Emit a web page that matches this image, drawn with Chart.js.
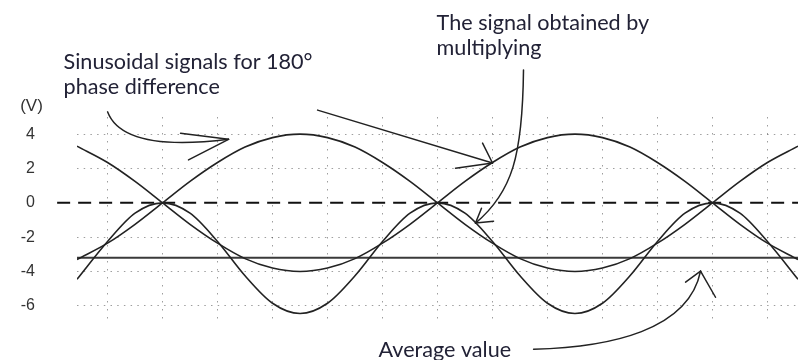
<!DOCTYPE html>
<html>
<head>
<meta charset="utf-8">
<script src="https://cdn.jsdelivr.net/npm/chart.js@4"></script>
<style>
  body { margin: 0; background: #fff; }
</style>
</head>
<body>
<canvas id="signals" width="798" height="360"></canvas>
<script>
// phase in degrees (x) and voltage (y)
const phase = [-56, -36, -18, 0, 18, 36, 54, 72, 90, 108, 126, 144, 162, 180, 198, 216, 234, 252, 270, 288, 306, 324, 342, 360, 378, 396, 416];
const signalA = [-3.3, -2.35, -1.25, 0, 1.25, 2.35, 3.25, 3.8, 4.0, 3.8, 3.25, 2.35, 1.25, 0, -1.25, -2.35, -3.25, -3.8, -4.0, -3.8, -3.25, -2.35, -1.25, 0, 1.25, 2.35, 3.3];
const signalB = [3.3, 2.35, 1.25, 0, -1.25, -2.35, -3.25, -3.8, -4.0, -3.8, -3.25, -2.35, -1.25, 0, 1.25, 2.35, 3.25, 3.8, 4.0, 3.8, 3.25, 2.35, 1.25, 0, -1.25, -2.35, -3.3];
const product = [-4.45, -2.25, -0.6, 0, -0.6, -2.25, -4.25, -5.85, -6.45, -5.85, -4.25, -2.25, -0.6, 0, -0.6, -2.25, -4.25, -5.85, -6.45, -5.85, -4.25, -2.25, -0.6, 0, -0.6, -2.25, -4.45];
const averageValue = -3.2;
const yTicks = [4, 2, 0, -2, -4, -6];
const xGrid = [-36, 0, 36, 72, 108, 144, 180, 216, 252, 288, 324, 360, 396];

// annotations, in data units
const notes = [
  { text: "Sinusoidal signals for 180°", x: -64.8, y: 8.2 },
  { text: "phase difference", x: -64.8, y: 6.74 },
  { text: "The signal obtained by", x: 179.4, y: 10.48 },
  { text: "multiplying", x: 179.4, y: 9.02 },
  { text: "Average value", x: 141.4, y: -8.59 }
];
const arrows = [
  { path: [[-36, 5.3], [-29, 3.65], [-1.3, 3.2], [43.2, 3.7]], head: [[11.8, 4.05], [17, 2.5]] },
  { path: [[101.5, 5.4], [216, 2.32]], head: [[209.5, 3.48], [191.8, 2.02]] },
  { path: [[236.3, 7.74], [235.7, 2.78], [229.1, 0.62], [204.9, -1.18]], head: [[216.7, -1.07], [208.8, -0.31]] },
  { path: [[242.9, -8.53], [293.3, -8.41], [344.4, -7.42], [352.2, -3.98]], head: [[342.4, -4.62], [362, -5.5]] }
];

const pts = (ys) => phase.map((x, i) => ({ x: x, y: ys[i] }));
const curve = (ys) => ({
  data: pts(ys),
  borderColor: "#222",
  borderWidth: 1.6,
  pointRadius: 0,
  cubicInterpolationMode: "monotone"
});

const annotate = {
  id: "annotate",
  afterDraw(chart) {
    const c = chart.ctx;
    const sx = chart.scales.x, sy = chart.scales.y;
    const px = (p) => [sx.getPixelForValue(p[0]), sy.getPixelForValue(p[1])];
    c.save();
    c.strokeStyle = "#222";
    c.lineWidth = 1.5;
    c.lineCap = "round";
    arrows.forEach((a) => {
      const p = a.path.map(px);
      c.beginPath();
      c.moveTo(p[0][0], p[0][1]);
      if (p.length === 4) c.bezierCurveTo(p[1][0], p[1][1], p[2][0], p[2][1], p[3][0], p[3][1]);
      else c.lineTo(p[1][0], p[1][1]);
      c.stroke();
      const tip = p[p.length - 1];
      a.head.map(px).forEach((h) => {
        c.beginPath();
        c.moveTo(h[0], h[1]);
        c.lineTo(tip[0], tip[1]);
        c.stroke();
      });
    });

    // size the note font so the first line has the width seen in the picture
    c.font = "100px Lato";
    const size = 100 * 249 / c.measureText(notes[0].text).width;
    c.font = size.toFixed(1) + "px Lato";
    c.fillStyle = "#222236";
    c.textBaseline = "middle";
    c.textAlign = "left";
    notes.forEach((n) => {
      const p = px([n.x, n.y]);
      c.fillText(n.text, p[0], p[1]);
    });

    c.font = "17px 'Liberation Sans'";
    c.fillStyle = "#333";
    c.textAlign = "center";
    const u = px([-85.8, 5.64]);
    c.fillText("(V)", u[0], u[1]);
    c.restore();
  }
};

new Chart(document.getElementById("signals"), {
  type: "line",
  data: {
    datasets: [
      curve(signalA),
      curve(signalB),
      curve(product),
      {
        data: [{ x: -69, y: 0 }, { x: 416, y: 0 }],
        borderColor: "#111",
        borderWidth: 2,
        borderDash: [13, 8],
        pointRadius: 0,
        clip: false
      },
      {
        data: [{ x: -56, y: averageValue }, { x: 416, y: averageValue }],
        borderColor: "#3a3a3a",
        borderWidth: 2,
        pointRadius: 0
      }
    ]
  },
  options: {
    responsive: false,
    animation: false,
    devicePixelRatio: 1,
    layout: { padding: { top: 117, bottom: 37, left: 0, right: 0 } },
    plugins: { legend: { display: false }, tooltip: { enabled: false } },
    scales: {
      x: {
        type: "linear",
        min: -56,
        max: 416,
        afterBuildTicks: (s) => { s.ticks = xGrid.map((v) => ({ value: v })); },
        afterFit: (s) => { s.height = 0; },
        ticks: { display: false },
        grid: { color: "rgba(0,0,0,0.38)", lineWidth: 1, drawTicks: false },
        border: { display: false, dash: [1.5, 6.5] }
      },
      y: {
        min: -7,
        max: 5,
        afterBuildTicks: (s) => { s.ticks = yTicks.map((v) => ({ value: v })); },
        // the large label padding would otherwise also pad the plot top and bottom
        afterFit: (s) => { s.width = 77; s.paddingTop = 0; s.paddingBottom = 0; },
        ticks: {
          padding: 42,
          color: "#333",
          font: { family: "'Liberation Sans'", size: 16 }
        },
        grid: {
          color: (ctx) => (ctx.tick && ctx.tick.value === 0 ? "rgba(0,0,0,0)" : "rgba(0,0,0,0.38)"),
          lineWidth: 1,
          drawTicks: false
        },
        border: { display: false, dash: [1.5, 5.2] }
      }
    }
  },
  plugins: [annotate]
});
</script>
</body>
</html>
